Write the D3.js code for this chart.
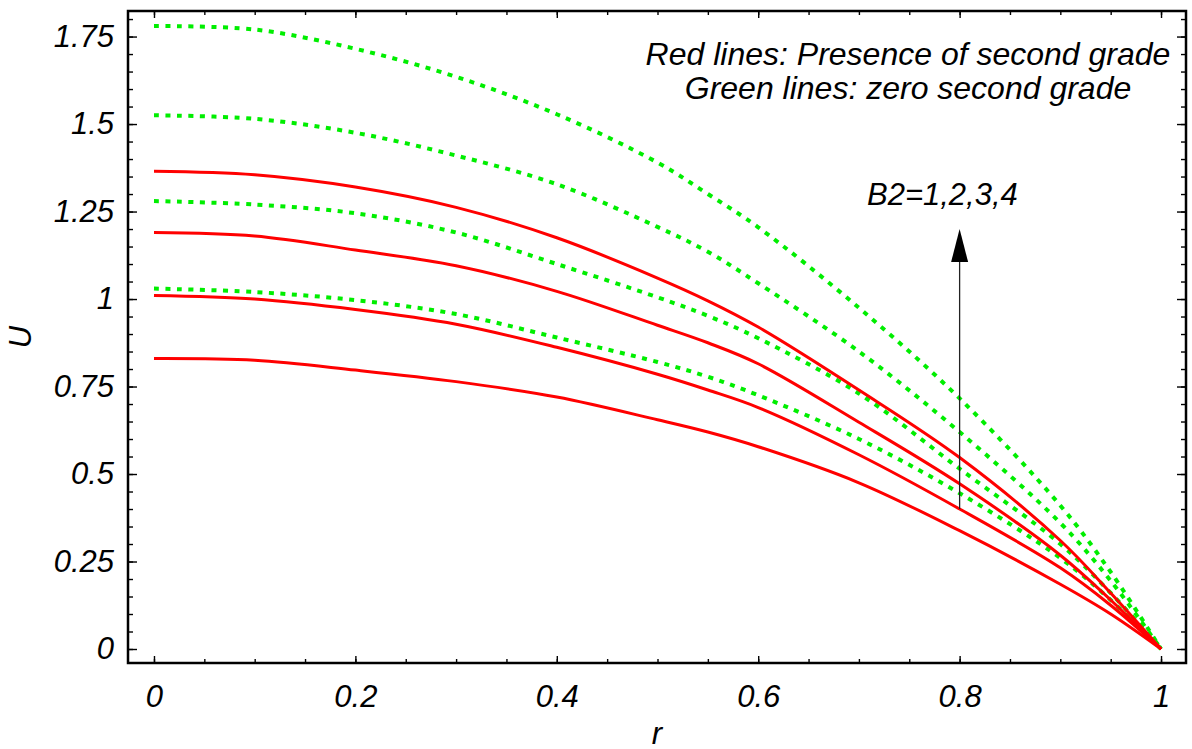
<!DOCTYPE html>
<html>
<head>
<meta charset="utf-8">
<script src="https://cdn.jsdelivr.net/npm/d3@7"></script>
<style>
  html, body { margin: 0; padding: 0; background: #fff; }
  svg text { font-family: "Liberation Sans", Arial, sans-serif; font-style: italic; fill: #000; }
</style>
</head>
<body>
<div id="chart"></div>
<script>
// radial positions where the profiles were read
var rVals = [0, 0.1, 0.2, 0.3, 0.4, 0.5, 0.55, 0.6, 0.7, 0.8, 0.9, 0.95, 1];

// red lines: presence of second grade, B2 = 1..4
var redB1 = [0.83, 0.825, 0.797, 0.764, 0.72, 0.655, 0.62, 0.578, 0.475, 0.338, 0.185, 0.1, 0];
var redB2 = [1.01, 1.0, 0.97, 0.928, 0.862, 0.785, 0.74, 0.69, 0.555, 0.40, 0.232, 0.125, 0];
var redB3 = [1.19, 1.18, 1.14, 1.095, 1.022, 0.925, 0.875, 0.815, 0.648, 0.472, 0.268, 0.14, 0];
var redB4 = [1.365, 1.355, 1.32, 1.262, 1.175, 1.06, 0.995, 0.92, 0.74, 0.547, 0.31, 0.16, 0];

// green lines: zero second grade, B2 = 1..4
var greenB1 = [1.03, 1.02, 0.997, 0.957, 0.89, 0.82, 0.778, 0.725, 0.6, 0.445, 0.26, 0.14, 0];
var greenB2 = [1.28, 1.27, 1.245, 1.19, 1.10, 1.005, 0.952, 0.888, 0.73, 0.515, 0.3, 0.16, 0];
var greenB3 = [1.525, 1.515, 1.475, 1.41, 1.328, 1.206, 1.135, 1.045, 0.85, 0.62, 0.36, 0.195, 0];
var greenB4 = [1.78, 1.77, 1.715, 1.635, 1.528, 1.39, 1.3, 1.205, 0.975, 0.716, 0.41, 0.22, 0];

// tick values
var xMajor = [0, 0.2, 0.4, 0.6, 0.8, 1];
var xMinor = d3.range(0, 21).map(function(i) { return i * 0.05; });
var yMajor = [0, 0.25, 0.5, 0.75, 1, 1.25, 1.5, 1.75];
var yMinor = d3.range(0, 37).map(function(i) { return i * 0.05; });

var legendLines = ["Red lines: Presence of second grade", "Green lines: zero second grade"];
var arrowLabel = "B2=1,2,3,4";

var width = 1192;
var height = 749;
// plot frame edges (top is a reserved window name, so prefix them)
var fLeft = 128, fTop = 11, fRight = 1186, fBottom = 663;

var svg = d3.select("#chart")
  .append("svg")
  .attr("width", width)
  .attr("height", height);

var xScale = d3.scaleLinear().domain([-0.0258, 1.0248]).range([fLeft, fRight]);
var yScale = d3.scaleLinear().domain([-0.04, 1.823]).range([fBottom, fTop]);

// ticks on all four sides, pointing inward
function styleAxis(g) {
  g.attr("font-family", null).attr("font-size", null);
  g.select(".domain").remove();
  g.selectAll("line").attr("stroke", "#000").attr("stroke-width", 1.4);
  g.selectAll("text").style("font-size", "31px");
}

var fmt = function(d) { return String(+d.toFixed(2)); };

svg.append("g")
  .attr("transform", "translate(0," + fBottom + ")")
  .call(d3.axisBottom(xScale).tickValues(xMinor).tickSize(-4).tickFormat(""))
  .call(styleAxis);
svg.append("g")
  .attr("transform", "translate(0," + fBottom + ")")
  .call(d3.axisBottom(xScale).tickValues(xMajor).tickSize(-7).tickPadding(22).tickFormat(fmt))
  .call(styleAxis);
svg.append("g")
  .attr("transform", "translate(0," + fTop + ")")
  .call(d3.axisTop(xScale).tickValues(xMinor).tickSize(-4).tickFormat(""))
  .call(styleAxis);
svg.append("g")
  .attr("transform", "translate(0," + fTop + ")")
  .call(d3.axisTop(xScale).tickValues(xMajor).tickSize(-7).tickFormat(""))
  .call(styleAxis);

svg.append("g")
  .attr("transform", "translate(" + fLeft + ",0)")
  .call(d3.axisLeft(yScale).tickValues(yMinor).tickSize(-5).tickFormat(""))
  .call(styleAxis);
svg.append("g")
  .attr("transform", "translate(" + fLeft + ",0)")
  .call(d3.axisLeft(yScale).tickValues(yMajor).tickSize(-9).tickPadding(14).tickFormat(fmt))
  .call(styleAxis);
svg.append("g")
  .attr("transform", "translate(" + fRight + ",0)")
  .call(d3.axisRight(yScale).tickValues(yMinor).tickSize(-5).tickFormat(""))
  .call(styleAxis);
svg.append("g")
  .attr("transform", "translate(" + fRight + ",0)")
  .call(d3.axisRight(yScale).tickValues(yMajor).tickSize(-9).tickFormat(""))
  .call(styleAxis);

// lines
var line = d3.line()
  .x(function(d) { return xScale(d[0]); })
  .y(function(d) { return yScale(d[1]); })
  .curve(d3.curveCatmullRom.alpha(0.5));

function pairs(vals) {
  return rVals.map(function(r, i) { return [r, vals[i]]; });
}

var plot = svg.append("g");

[greenB1, greenB2, greenB3, greenB4].forEach(function(s) {
  plot.append("path")
    .attr("d", line(pairs(s)))
    .attr("fill", "none")
    .attr("stroke", "#00ee00")
    .attr("stroke-width", 4)
    .attr("stroke-dasharray", "5,6.5");
});

[redB1, redB2, redB3, redB4].forEach(function(s) {
  plot.append("path")
    .attr("d", line(pairs(s)))
    .attr("fill", "none")
    .attr("stroke", "#ff0000")
    .attr("stroke-width", 3);
});

// frame
svg.append("rect")
  .attr("x", fLeft)
  .attr("y", fTop)
  .attr("width", fRight - fLeft)
  .attr("height", fBottom - fTop)
  .attr("fill", "none")
  .attr("stroke", "#000")
  .attr("stroke-width", 2.5);

// arrow for increasing B2
var ax = xScale(0.8);
var tipY = yScale(1.2);
svg.append("line")
  .attr("x1", ax).attr("x2", ax)
  .attr("y1", yScale(0.4)).attr("y2", tipY + 30)
  .attr("stroke", "#222")
  .attr("stroke-width", 1.3);
svg.append("path")
  .attr("d", "M" + ax + "," + tipY + "L" + (ax - 8.5) + "," + (tipY + 33) +
    "L" + (ax + 8.5) + "," + (tipY + 33) + "Z")
  .attr("fill", "#000");

svg.append("text")
  .attr("x", 867)
  .attr("y", 205)
  .style("font-size", "31px")
  .text(arrowLabel);

// legend text
svg.selectAll(".legendText")
  .data(legendLines)
  .enter()
  .append("text")
  .attr("class", "legendText")
  .attr("x", 908)
  .attr("y", function(d, i) { return 65 + i * 34; })
  .attr("text-anchor", "middle")
  .style("font-size", "32px")
  .text(function(d) { return d; });

// axis labels
svg.append("text")
  .attr("x", (fLeft + fRight) / 2)
  .attr("y", 744)
  .attr("text-anchor", "middle")
  .style("font-size", "31px")
  .text("r");

svg.append("text")
  .attr("transform", "translate(31," + ((fTop + fBottom) / 2) + ")rotate(-90)")
  .attr("text-anchor", "middle")
  .style("font-size", "31px")
  .text("U");
</script>
</body>
</html>
